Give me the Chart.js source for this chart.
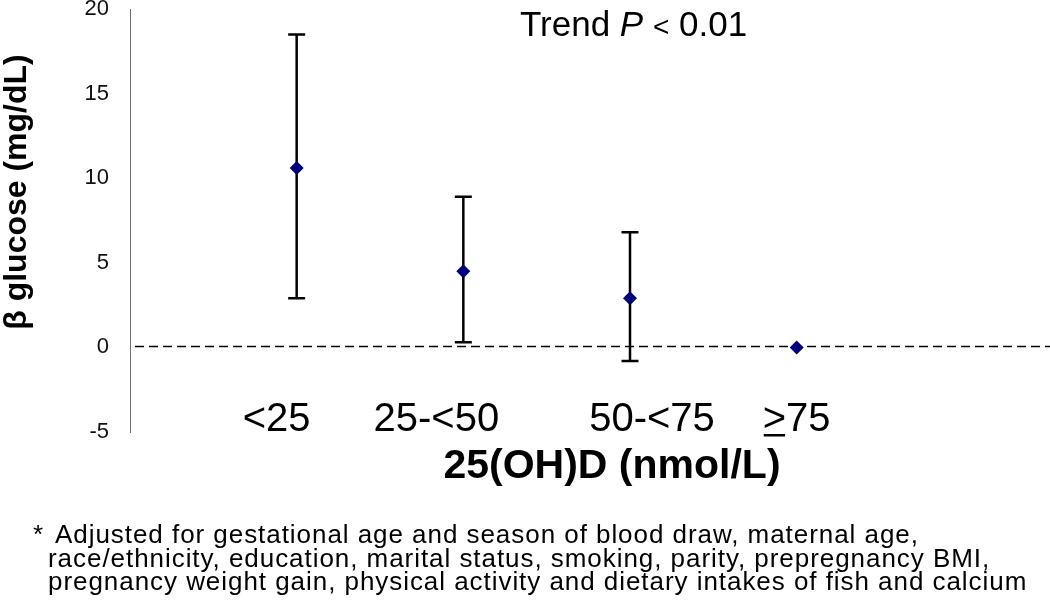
<!DOCTYPE html>
<html>
<head>
<meta charset="utf-8">
<script src="https://cdn.jsdelivr.net/npm/chart.js@4.4.0/dist/chart.umd.min.js"></script>
<style>
  html, body { margin: 0; padding: 0; background: #fff; }
  #wrap { position: relative; width: 1050px; height: 605px; overflow: hidden; }
  #chart { position: absolute; left: 0; top: 0; }
  .note { position: absolute; font-family: "Liberation Sans", Arial, sans-serif; font-size: 26px;
          letter-spacing: 0.95px; line-height: 26px; color: #000; white-space: nowrap; }
</style>
</head>
<body>
<div id="wrap">
  <canvas id="chart" width="1050" height="605"></canvas>
  <div class="note" style="left:33px; top:521px;">*</div>
  <div class="note" style="left:55px; top:521px;">Adjusted for gestational age and season of blood draw, maternal age,</div>
  <div class="note" style="left:48px; top:545px;">race/ethnicity, education, marital status, smoking, parity, prepregnancy BMI,</div>
  <div class="note" style="left:48px; top:568px;">pregnancy weight gain, physical activity and dietary intakes of fish and calcium</div>
</div>
<script>
// 25(OH)D categories and adjusted beta glucose (mg/dL) with 95% CI
const categories = ['<25', '25-<50', '50-<75', '\u226575'];
const estimates = [10.6, 4.5, 2.9, 0];
const ciLower = [2.9, 0.3, -0.8, null];
const ciUpper = [18.5, 8.9, 6.8, null];
const yTicks = [-5, 0, 5, 10, 15, 20];

const FONT = '"Liberation Sans", Arial, sans-serif';
// small pixel nudges for the category labels (as laid out in the original)
const labelNudge = [-20, -27, 22, 0];

const errorBars = {
    id: 'errorBars',
    beforeDatasetsDraw(chart) {
        const { ctx, scales: { x, y }, chartArea } = chart;
        ctx.save();
        // reference line at 0
        ctx.strokeStyle = '#000';
        ctx.lineWidth = 1.5;
        ctx.setLineDash([9, 5]);
        const y0 = Math.round(y.getPixelForValue(0)) - 0.5;
        ctx.beginPath();
        ctx.moveTo(chartArea.left + 5, y0);
        ctx.lineTo(chartArea.right, y0);
        ctx.stroke();
        ctx.setLineDash([]);

        ctx.lineWidth = 2.5;
        const cap = 8.5;
        categories.forEach((c, i) => {
            if (ciLower[i] == null || ciUpper[i] == null) return;
            const px = x.getPixelForValue(i + 1);
            const lo = y.getPixelForValue(ciLower[i]);
            const hi = y.getPixelForValue(ciUpper[i]);
            ctx.beginPath();
            ctx.moveTo(px, lo); ctx.lineTo(px, hi);
            ctx.moveTo(px - cap, lo); ctx.lineTo(px + cap, lo);
            ctx.moveTo(px - cap, hi); ctx.lineTo(px + cap, hi);
            ctx.stroke();
        });
        ctx.restore();
    },
    afterDraw(chart) {
        const { ctx, scales: { x } } = chart;
        ctx.save();
        ctx.fillStyle = '#000';
        ctx.textBaseline = 'alphabetic';

        // y axis title (sits a bit above the axis middle in the original)
        ctx.save();
        ctx.translate(17, 192);
        ctx.rotate(-Math.PI / 2);
        ctx.font = 'bold 32px ' + FONT;
        ctx.textAlign = 'center';
        ctx.textBaseline = 'middle';
        ctx.fillText('\u03b2 glucose (mg/dL)', 0, 0);
        ctx.restore();

        // category labels
        ctx.font = '40px ' + FONT;
        categories.forEach((c, i) => {
            const cx = x.getPixelForValue(i + 1) + labelNudge[i];
            const baseY = 431;
            if (c.startsWith('\u2265')) {
                const rest = c.slice(1);
                const w1 = ctx.measureText('>').width;
                const w = w1 + ctx.measureText(rest).width;
                const sx = cx - w / 2;
                ctx.textAlign = 'left';
                ctx.fillText('>', sx, baseY);
                ctx.fillText(rest, sx + w1, baseY);
                ctx.fillRect(sx + 1, baseY + 3, w1 - 2, 2.5);
            } else {
                ctx.textAlign = 'center';
                ctx.fillText(c, cx, baseY);
            }
        });

        // x axis title
        ctx.font = 'bold 41px ' + FONT;
        ctx.textAlign = 'center';
        ctx.fillText('25(OH)D (nmol/L)', 612, 478);

        // trend annotation
        ctx.textAlign = 'left';
        let tx = 520;
        const ty = 36;
        const parts = [
            ['Trend ', '35px ' + FONT],
            ['P', 'italic 35px ' + FONT],
            [' ', '35px ' + FONT],
            ['<', '28px ' + FONT],
            [' 0.01', '35px ' + FONT]
        ];
        parts.forEach(([t, f]) => {
            ctx.font = f;
            ctx.fillText(t, tx, ty);
            tx += ctx.measureText(t).width;
        });
        ctx.restore();
    }
};

new Chart(document.getElementById('chart'), {
    type: 'scatter',
    data: {
        datasets: [{
            label: 'beta glucose',
            data: estimates.map((v, i) => ({ x: i + 1, y: v })),
            pointStyle: 'rectRot',
            pointRadius: 7,
            pointHoverRadius: 7,
            backgroundColor: '#00007f',
            borderColor: '#00007f',
            borderWidth: 0
        }]
    },
    options: {
        responsive: false,
        animation: false,
        layout: { autoPadding: false, padding: { top: 9, right: 0, bottom: 173, left: 0 } },
        plugins: {
            legend: { display: false },
            tooltip: { enabled: false }
        },
        scales: {
            x: {
                type: 'linear',
                display: false,
                min: 0,
                max: 5.52
            },
            y: {
                min: -5,
                max: 20,
                afterBuildTicks: s => { s.ticks = yTicks.map(v => ({ value: v })); },
                afterFit: s => {
                    s.width = 130;
                    s.paddingTop = 0;
                    s.paddingBottom = 0;
                },
                grid: { display: false, drawTicks: false },
                border: { display: true, color: '#6e6e6e', width: 1 },
                ticks: {
                    padding: 21,
                    color: '#111',
                    font: { family: FONT, size: 22, lineHeight: 1.0 }
                },
                title: { display: false }
            }
        }
    },
    plugins: [errorBars]
});
</script>
</body>
</html>
